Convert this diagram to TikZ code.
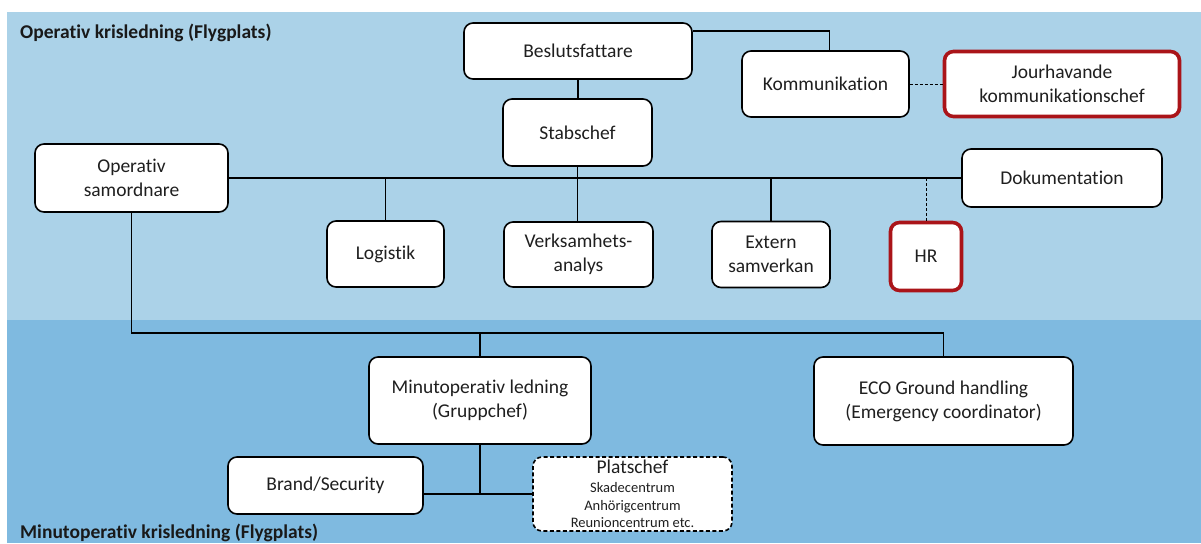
\documentclass[tikz,border=0pt]{standalone}
\usepackage{fontspec}
\setmainfont{Carlito}[Ligatures=NoCommon]
\begin{document}
\begin{tikzpicture}[x=1pt,y=-1pt,
  box/.style={draw=black,line width=1.6pt,fill=white,rounded corners=9pt,align=center,
    font=\fontsize{19.5}{24}\selectfont,inner sep=0pt,anchor=center,text=black!88},
  redbox/.style={box,draw=myred,line width=3.6pt},
  dbox/.style={box,dash pattern=on 4pt off 2.5pt,line width=1.6pt},
  conn/.style={draw=black,line width=1.6pt},
  thin/.style={draw=black,line width=0.9pt,dash pattern=on 3pt off 2pt},
  title/.style={font=\fontsize{19.5}{24}\selectfont\bfseries,anchor=west,inner sep=0pt,text=black!90}]
\definecolor{topblue}{RGB}{171,210,232}
\definecolor{botblue}{RGB}{127,186,224}
\definecolor{myred}{RGB}{170,20,25}
\useasboundingbox (0,0) rectangle (1201,543);
\fill[white] (0,0) rectangle (1201,543);
\fill[topblue] (7,12) rectangle (1201,320);
\fill[botblue] (7,320) rectangle (1201,543);

\node[title] (t1) at (20,33) {Operativ krisledning (Flygplats)};
\node[title] (t2) at (20,533) {Minutoperativ krisledning (Flygplats)};

\node[box,minimum width=228pt,minimum height=56pt] (besl) at (578,51) {Beslutsfattare};
\node[box,minimum width=149pt,minimum height=67pt] (stab) at (577.5,132.5) {Stabschef};
\node[box,minimum width=167pt,minimum height=66pt] (komm) at (825.5,84) {Kommunikation};
\node[redbox,minimum width=235pt,minimum height=65pt] (jour) at (1062,84) {Jourhavande\\kommunikationschef};
\node[box,minimum width=193pt,minimum height=68pt] (ops) at (131.5,178) {Operativ\\samordnare};
\node[box,minimum width=200pt,minimum height=58pt] (dok) at (1062,178) {Dokumentation};
\node[box,minimum width=117pt,minimum height=66pt] (log) at (385.5,254) {Logistik};
\node[box,minimum width=149pt,minimum height=65pt] (verk) at (578.5,254.5) {Verksamhets-\\analys};
\node[box,minimum width=118pt,minimum height=66pt] (ext) at (771,254.5) {Extern\\samverkan};
\node[redbox,minimum width=71pt,minimum height=68pt] (hr) at (926,256.5) {HR};
\node[box,minimum width=222pt,minimum height=87pt] (mino) at (480,400.5) {Minutoperativ ledning\\(Gruppchef)};
\node[box,minimum width=259pt,minimum height=88pt] (eco) at (943.5,401) {ECO Ground handling\\(Emergency coordinator)};
\node[box,minimum width=195pt,minimum height=57pt] (brand) at (325.5,485.5) {Brand/Security};
\node[dbox,minimum width=199pt,minimum height=74pt,font=\fontsize{14.5}{17.5}\selectfont] (plat) at (632.5,494)
  {{\fontsize{19.5}{20}\selectfont Platschef}\\[1.5pt]Skadecentrum\\Anhörigcentrum\\Reunioncentrum etc.};

\coordinate (busY) at (0,333);

% top connectors
\draw[conn] ([yshift=20pt]besl.east) -| ([xshift=4pt]komm.north);
\draw[conn] (besl.south) -- (besl.south |- stab.north);
\draw[thin] (komm.east) -- (jour.west);
\draw[conn] (ops.east) -- (dok.west);
\draw[conn] (stab.south) -- (stab.south |- verk.north);
\draw[conn] (log.north) -- (log.north |- ops.east);
\draw[conn] (ext.north) -- (ext.north |- ops.east);
\draw[thin] (hr.north) -- (hr.north |- ops.east);

% lower connectors
\draw[conn] (ops.south) |- (eco.north |- busY) -- (eco.north);
\draw[conn] (mino.north) -- (mino.north |- busY);
\draw[conn] (mino.south) -- (mino.south |- plat.west);
\draw[conn] (brand.east |- plat.west) -- (plat.west);
\end{tikzpicture}
\end{document}
